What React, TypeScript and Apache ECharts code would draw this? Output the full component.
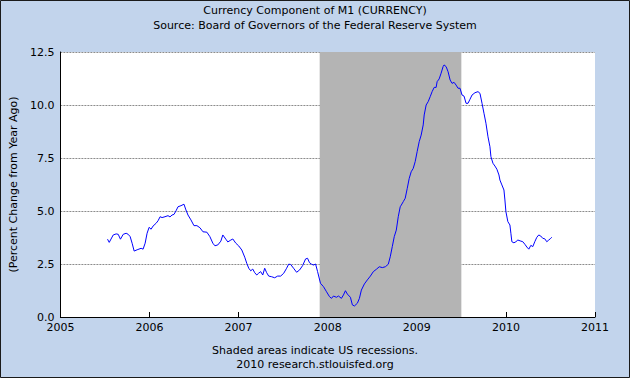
import React, { useEffect, useRef } from "react";
import * as echarts from "echarts";

const titleText = "Currency Component of M1 (CURRENCY)";
const subtitleText = "Source: Board of Governors of the Federal Reserve System";
const footer1 = "Shaded areas indicate US recessions.";
const footer2 = "2010 research.stlouisfed.org";
const yAxisName = "(Percent Change from Year Ago)";

const years: number[] = [
  2005.529, 2005.548, 2005.593, 2005.626, 2005.649, 2005.674, 2005.705, 2005.738, 2005.761, 2005.783,
  2005.805, 2005.828, 2005.861, 2005.906, 2005.928, 2005.951, 2005.973, 2005.996, 2006.018, 2006.040,
  2006.074, 2006.096, 2006.119, 2006.141, 2006.174, 2006.208, 2006.230, 2006.253, 2006.275, 2006.298,
  2006.320, 2006.353, 2006.387, 2006.409, 2006.432, 2006.465, 2006.499, 2006.532, 2006.566, 2006.600,
  2006.644, 2006.678, 2006.711, 2006.734, 2006.767, 2006.801, 2006.823, 2006.857, 2006.879, 2006.913,
  2006.935, 2006.969, 2007.002, 2007.036, 2007.069, 2007.092, 2007.114, 2007.136, 2007.159, 2007.181,
  2007.204, 2007.226, 2007.248, 2007.271, 2007.293, 2007.315, 2007.338, 2007.371, 2007.405, 2007.438,
  2007.472, 2007.506, 2007.539, 2007.562, 2007.584, 2007.617, 2007.651, 2007.685, 2007.718, 2007.752,
  2007.774, 2007.796, 2007.819, 2007.841, 2007.864, 2007.886, 2007.919, 2007.953, 2007.987, 2008.020,
  2008.043, 2008.065, 2008.098, 2008.121, 2008.154, 2008.177, 2008.199, 2008.221, 2008.255, 2008.277,
  2008.300, 2008.333, 2008.356, 2008.378, 2008.412, 2008.445, 2008.479, 2008.512, 2008.546, 2008.579,
  2008.613, 2008.647, 2008.680, 2008.702, 2008.725, 2008.747, 2008.770, 2008.792, 2008.814, 2008.826,
  2008.848, 2008.870, 2008.893, 2008.915, 2008.937, 2008.960, 2008.982, 2009.004, 2009.027, 2009.049,
  2009.072, 2009.083, 2009.105, 2009.128, 2009.150, 2009.172, 2009.195, 2009.217, 2009.228, 2009.251,
  2009.273, 2009.295, 2009.306, 2009.329, 2009.351, 2009.374, 2009.396, 2009.418, 2009.441, 2009.463,
  2009.485, 2009.508, 2009.530, 2009.553, 2009.575, 2009.597, 2009.620, 2009.653, 2009.687, 2009.709,
  2009.732, 2009.754, 2009.776, 2009.799, 2009.821, 2009.832, 2009.855, 2009.877, 2009.899, 2009.922,
  2009.933, 2009.955, 2009.978, 2009.989, 2010.000, 2010.022, 2010.045, 2010.056, 2010.067, 2010.090,
  2010.112, 2010.134, 2010.168, 2010.190, 2010.213, 2010.235, 2010.257, 2010.280, 2010.302, 2010.324,
  2010.347, 2010.369, 2010.391, 2010.414, 2010.436, 2010.459, 2010.481, 2010.503, 2010.515,
];

const pctChange: number[] = [
  3.67, 3.52, 3.87, 3.92, 3.9, 3.67, 3.9, 3.95, 3.9, 3.79,
  3.48, 3.11, 3.17, 3.24, 3.2, 3.48, 3.95, 4.23, 4.14, 4.29,
  4.42, 4.54, 4.73, 4.69, 4.73, 4.78, 4.72, 4.81, 4.84, 5.01,
  5.2, 5.25, 5.32, 5.05, 4.81, 4.58, 4.31, 4.31, 4.21, 4.02,
  4.0, 3.79, 3.48, 3.36, 3.4, 3.58, 3.87, 3.67, 3.54, 3.63,
  3.68, 3.48, 3.35, 3.16, 2.82, 2.53, 2.3, 2.18, 2.26, 2.09,
  1.98, 2.07, 2.14, 1.98, 2.3, 2.09, 1.93, 1.9, 1.85, 1.93,
  1.93, 2.06, 2.3, 2.49, 2.48, 2.3, 2.11, 2.22, 2.42, 2.74,
  2.77, 2.56, 2.49, 2.45, 2.5, 2.15, 1.59, 1.43, 1.19, 0.96,
  0.88, 0.99, 0.93, 0.99, 0.88, 1.04, 1.24, 1.08, 0.93, 0.57,
  0.52, 0.65, 0.88, 1.27, 1.56, 1.75, 1.93, 2.14, 2.25, 2.37,
  2.33, 2.37, 2.49, 2.84, 3.32, 3.79, 4.1, 4.73, 5.2, 5.28,
  5.44, 5.6, 6.07, 6.54, 6.85, 7.01, 7.33, 7.8, 8.27, 8.58,
  9.06, 9.53, 10.0, 10.16, 10.39, 10.63, 10.83, 10.83, 11.1, 11.23,
  11.5, 11.81, 11.89, 11.81, 11.57, 11.18, 11.02, 11.07, 10.94, 10.79,
  10.79, 10.47, 10.42, 10.08, 10.08, 10.27, 10.47, 10.58, 10.63, 10.55,
  10.08, 9.61, 9.14, 8.5, 8.03, 7.56, 7.25, 7.12, 6.97, 6.7,
  6.46, 6.23, 5.99, 5.52, 4.97, 4.5, 4.34, 3.95, 3.55, 3.5,
  3.55, 3.63, 3.58, 3.55, 3.43, 3.3, 3.2, 3.38, 3.32, 3.55,
  3.76, 3.87, 3.82, 3.71, 3.69, 3.55, 3.63, 3.71, 3.76,
];

const recessionStart = 2007.91;
const recessionEnd = 2009.5;

const FONT = "DejaVu Sans";

export default function App() {
  const ref = useRef<HTMLDivElement>(null);
  useEffect(() => {
    if (!ref.current) return;
    const chart = echarts.init(ref.current, undefined, { renderer: "svg" });
    const data = years.map((y, i) => [y, pctChange[i]]);
    chart.setOption({
      animation: false,
      backgroundColor: "#c2d4ec",
      textStyle: { fontFamily: FONT },
      grid: {
        left: 59,
        right: 35,
        top: 52,
        bottom: 61,
        show: true,
        backgroundColor: "#ffffff",
        borderWidth: 0,
      },
      xAxis: {
        type: "value",
        min: 2005,
        max: 2011,
        interval: 1,
        axisLine: { show: true, lineStyle: { color: "#000", width: 1 } },
        axisTick: { show: true, inside: true, length: 5, lineStyle: { color: "#000" } },
        axisLabel: { color: "#000", fontSize: 11, fontFamily: FONT, margin: 5, formatter: (v: number) => String(v) },
        splitLine: { show: false },
      },
      yAxis: {
        type: "value",
        min: 0,
        max: 12.5,
        interval: 2.5,
        name: yAxisName,
        nameLocation: "middle",
        nameGap: 40,
        nameTextStyle: { color: "#000", fontSize: 11, fontFamily: FONT },
        axisLine: { show: true, lineStyle: { color: "#000", width: 1 } },
        axisTick: { show: false },
        axisLabel: { color: "#000", fontSize: 11, fontFamily: FONT, margin: 6, formatter: (v: number) => v.toFixed(1) },
        splitLine: { show: true, lineStyle: { color: "#8c8c8c", type: [2, 1], width: 1 } },
      },
      graphic: [
        {
          type: "text",
          left: "center",
          top: 5,
          style: { text: titleText, fill: "#000", font: `11px '${FONT}'` },
        },
        {
          type: "text",
          left: "center",
          top: 20,
          style: { text: subtitleText, fill: "#000", font: `11px '${FONT}'` },
        },
        {
          type: "text",
          left: "center",
          top: 345,
          style: { text: footer1, fill: "#000", font: `11px '${FONT}'` },
        },
        {
          type: "text",
          left: "center",
          top: 359,
          style: { text: footer2, fill: "#000", font: `11px '${FONT}'` },
        },
        {
          type: "rect",
          shape: { x: 0.5, y: 0.5, width: 629, height: 377 },
          style: { fill: "none", stroke: "#1a1a1a", lineWidth: 1 },
          silent: true,
        },
      ],
      series: [
        {
          type: "line",
          data,
          showSymbol: false,
          lineStyle: { color: "#0000ff", width: 1 },
          z: 3,
          markArea: {
            silent: true,
            itemStyle: { color: "#b4b4b4" },
            data: [[{ xAxis: recessionStart }, { xAxis: recessionEnd }]],
          },
        },
      ],
    });
    return () => chart.dispose();
  }, []);
  return (
    <div
      ref={ref}
      style={{ position: "fixed", left: 0, top: 0, width: 630, height: 378 }}
    />
  );
}
